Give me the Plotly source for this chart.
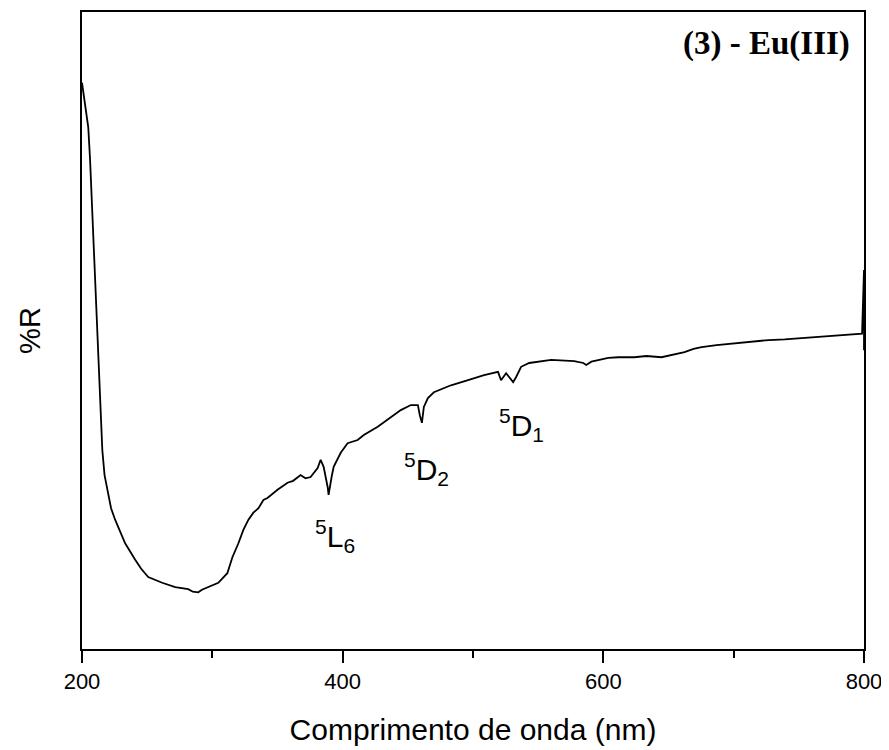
import plotly.graph_objects as go

# Wavelength (nm) and reflectance (arbitrary %R units)
wavelength = [200.0, 202.3, 203.6, 204.8, 206.2, 207.9, 209.5, 211.3, 212.5, 213.8,
              215.6, 217.3, 220.2, 222.3, 225.4, 229.2, 233.1, 240.8, 245.4, 250.8,
              256.2, 261.5, 271.5, 281.5, 285.0, 289.2, 292.0, 296.9, 304.6, 311.5,
              315.4, 320.0, 323.8, 327.7, 331.5, 335.4, 339.2, 342.3, 350.0, 357.7,
              362.0, 367.7, 371.5, 375.4, 380.8, 383.1, 385.4, 388.5, 389.2, 391.5,
              393.1, 398.5, 403.8, 411.5, 416.2, 426.9, 434.6, 444.6, 452.3, 457.7,
              459.2, 460.8, 462.3, 465.4, 470.0, 483.1, 496.2, 508.5, 519.2, 521.5,
              525.4, 530.8, 533.1, 536.9, 543.1, 560.0, 577.7, 584.6, 586.9, 590.8,
              603.8, 611.5, 623.8, 633.1, 644.6, 652.3, 662.3, 669.2, 675.4, 686.9,
              700.8, 713.8, 726.9, 739.2, 752.3, 763.8, 777.7, 786.9, 798.5, 800.0,
              800.0]
reflectance = [88.9, 85.7, 84.1, 81.9, 76.8, 68.9, 61.1, 53.2, 46.5, 39.1,
               31.2, 27.3, 24.5, 22.1, 20.3, 18.4, 16.6, 14.0, 12.6, 11.3,
               10.8, 10.4, 9.7, 9.4, 9.0, 8.9, 9.3, 9.7, 10.4, 11.9,
               14.4, 16.6, 18.7, 20.3, 21.4, 22.1, 23.4, 23.7, 25.0, 26.1,
               26.4, 27.3, 26.8, 27.0, 28.4, 29.7, 28.6, 25.4, 24.2, 27.0,
               28.6, 30.8, 32.3, 32.8, 33.6, 34.9, 36.0, 37.5, 38.3, 38.3,
               36.7, 35.5, 38.0, 39.4, 40.3, 41.4, 42.2, 43.0, 43.5, 42.2,
               43.3, 41.9, 42.7, 44.3, 44.9, 45.4, 45.2, 44.9, 44.6, 45.1,
               45.7, 45.8, 45.8, 46.0, 45.8, 46.1, 46.6, 47.1, 47.4, 47.7,
               48.0, 48.3, 48.5, 48.6, 48.8, 49.0, 49.1, 49.3, 49.5, 59.5,
               46.9]

x_tick_vals = [200, 400, 600, 800]
x_tick_text = ["200", "400", "600", "800"]

# Transition labels
label_text = ["<sup>5</sup>L<sub>6</sub>", "<sup>5</sup>D<sub>2</sub>", "<sup>5</sup>D<sub>1</sub>"]
label_x = [393.8, 464.6, 537.0]
label_y = [17.8, 28.2, 35.2]

fig = go.Figure()
fig.add_trace(go.Scatter(x=wavelength, y=reflectance, mode="lines",
                         line=dict(color="black", width=1.8), showlegend=False))

for t, lx, ly in zip(label_text, label_x, label_y):
    fig.add_annotation(x=lx, y=ly, text=t, showarrow=False, xanchor="center", yanchor="middle",
                       font=dict(family="Liberation Sans", size=30, color="black"))

fig.add_annotation(x=790.5, y=95.0, text="<b>(3) - Eu(III)</b>", showarrow=False,
                   xanchor="right", yanchor="middle",
                   font=dict(family="Liberation Serif", size=33, color="black"))

fig.update_layout(
    width=881, height=742,
    margin=dict(l=74, r=25, t=4, b=101, autoexpand=False),
    paper_bgcolor="white", plot_bgcolor="white",
    font=dict(family="Liberation Sans", color="black"),
    xaxis=dict(range=[200, 800], tickvals=x_tick_vals, ticktext=x_tick_text,
               ticks="outside", ticklen=12, tickwidth=2, tickcolor="black",
               tickfont=dict(size=22, family="Liberation Sans"), ticklabelstandoff=0,
               showline=True, linewidth=2, linecolor="black", mirror=True,
               showgrid=False, zeroline=False, automargin=False,
               minor=dict(ticks="outside", ticklen=7, tickwidth=2, tickcolor="black",
                          tickvals=[300, 500, 700], showgrid=False),
               title=dict(text="Comprimento de onda (nm)", standoff=26,
                          font=dict(size=30, family="Liberation Sans"))),
    yaxis=dict(range=[0, 100], showticklabels=False, ticks="",
               showline=True, linewidth=2, linecolor="black", mirror=True,
               showgrid=False, zeroline=False, automargin=False,
               title=dict(text="%R", standoff=31,
                          font=dict(size=29, family="Liberation Sans"))),
)

fig.write_html("out.html")
